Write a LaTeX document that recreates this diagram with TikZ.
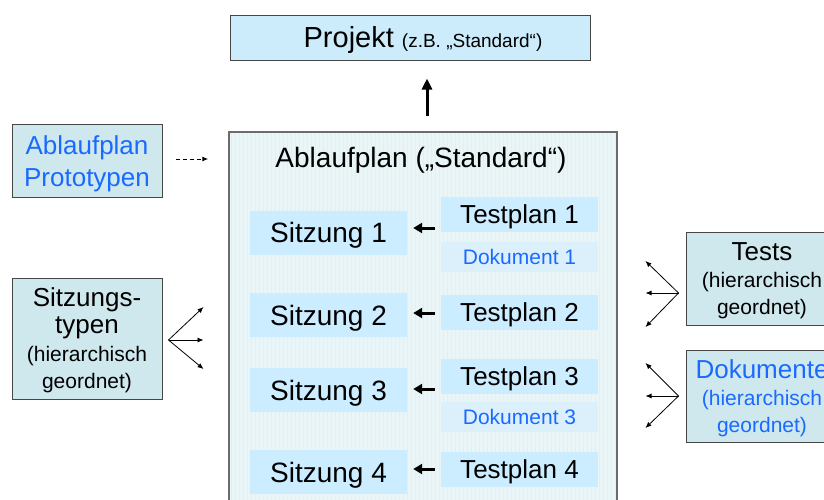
\documentclass[tikz,border=0pt]{standalone}
\usepackage{fontspec}
\setmainfont{Liberation Sans}
\usetikzlibrary{arrows.meta,positioning}

\definecolor{projfill}{RGB}{204,236,252}
\definecolor{sidefill}{RGB}{207,232,238}
\definecolor{planfill}{RGB}{233,245,247}
\definecolor{gridline}{RGB}{224,240,243}
\definecolor{sitzfill}{RGB}{204,236,255}
\definecolor{dokfill}{RGB}{220,240,252}
\definecolor{bluetext}{RGB}{26,106,255}
\definecolor{boxline}{RGB}{70,70,70}

\tikzset{
  box/.style={draw=boxline, line width=1pt, inner sep=0pt, align=center},
  sidebox/.style={box, fill=sidefill, minimum width=150pt, text depth=-6pt},
  sitz/.style={fill=sitzfill, minimum width=157pt, minimum height=44pt,
    text height=20pt, text depth=0pt, font=\fontsize{28}{30}\selectfont},
  tplan/.style={fill=sitzfill, minimum width=157pt, minimum height=35pt,
    text height=18.5pt, text depth=0pt, font=\fontsize{26}{28}\selectfont},
  dok/.style={fill=dokfill, minimum width=157pt, minimum height=30pt,
    text height=15pt, text depth=0pt, text=bluetext, font=\fontsize{21}{23}\selectfont},
  back/.style={-{Triangle[length=9pt,width=10pt]}, line width=3pt,
    shorten <=6pt, shorten >=6pt},
  fan/.style={-{Latex[length=6pt,width=5pt]}, line width=0.8pt},
}

\begin{document}
\begin{tikzpicture}[x=1pt,y=-1pt]
\useasboundingbox (0,0) rectangle (824,499);
\clip (0,0) rectangle (824,499);

% Projekt on top
\node[box, fill=projfill, minimum width=360pt, minimum height=45pt,
  text height=20pt, text depth=0pt, font=\fontsize{29}{30}\selectfont]
  (proj) at (410,37.5) {\hspace*{26pt}Projekt {\fontsize{19}{20}\selectfont (z.B. „Standard“)}};

% Ablaufplan frame (runs off the bottom)
\node[draw=boxline!80, line width=1.5pt, fill=planfill, minimum width=388pt, minimum height=388pt,
  path picture={\draw[gridline, line width=0.3pt, step=4]
    (path picture bounding box.south west) grid (path picture bounding box.north east);}]
  (plan) at (423,326) {};
\node[font=\fontsize{28}{30}\selectfont, text height=20pt, text depth=0pt]
  (ptitle) at (421,157) {Ablaufplan („Standard“)};
\draw[-{Triangle[length=11pt,width=10pt]}, line width=3pt, shorten <=15pt, shorten >=18pt]
  ([xshift=4pt]plan.north) -- ([xshift=4pt]plan.north |- proj.south);

% Sitzungen with their Testplaene
\node[sitz] (s1) at (328.5,232.5) {Sitzung 1};
\node[tplan] (t1) at (519.5,214.5) {Testplan 1};
\node[dok] (d1) at (519.5,256.5) {Dokument 1};
\draw[back] ([yshift=4.5pt]t1.west |- s1.east) -- ([yshift=4.5pt]s1.east);

\node[sitz] (s2) at (328.5,315) {Sitzung 2};
\node[tplan] (t2) at (519.5,312.5) {Testplan 2};
\draw[back] ([yshift=2pt]t2.west |- s2.east) -- ([yshift=2pt]s2.east);

\node[sitz] (s3) at (328.5,390) {Sitzung 3};
\node[tplan] (t3) at (519.5,376) {Testplan 3};
\node[dok] (d3) at (519.5,417) {Dokument 3};
\draw[back] ([yshift=1pt]t3.west |- s3.east) -- ([yshift=1pt]s3.east);

\node[sitz] (s4) at (328.5,472) {Sitzung 4};
\node[tplan] (t4) at (519.5,469.5) {Testplan 4};
\draw[back] ([yshift=3pt]t4.west |- s4.east) -- ([yshift=3pt]s4.east);

% Prototypen
\node[sidebox, minimum height=73pt, text=bluetext, font=\fontsize{26}{32}\selectfont]
  (proto) at (87,161) {Ablaufplan\\Prototypen};
\draw[-{Latex[length=6pt,width=5pt]}, line width=1pt, dash pattern=on 4pt off 3pt,
  shorten <=13pt, shorten >=20pt] ([yshift=2pt]proto.east) -- ([yshift=2pt]proto.east -| plan.west);

% Sitzungstypen
\node[sidebox, minimum height=121pt, font=\fontsize{26}{27}\selectfont]
  (typen) at (87,338.5) {Sitzungs-\\typen\\[1pt]{\fontsize{21}{26}\selectfont (hierarchisch}\\{\fontsize{21}{24}\selectfont geordnet)}};
\coordinate (sfan) at ([xshift=6pt,yshift=-1.5pt]typen.east);
\draw[fan] (sfan) -- ++(35,-33);
\draw[fan] (sfan) -- ++(35,0);
\draw[fan] (sfan) -- ++(35,29);

% Tests
\node[sidebox, minimum width=152pt, minimum height=93pt, font=\fontsize{26}{27}\selectfont]
  (tests) at (762,278.5) {Tests\\{\fontsize{21}{24}\selectfont (hierarchisch}\\{\fontsize{21}{24}\selectfont geordnet)}};
\coordinate (tfan) at ([xshift=-7pt,yshift=-14.5pt]tests.west);
\draw[fan] (tfan) -- ++(-33,-32);
\draw[fan] (tfan) -- ++(-33,0);
\draw[fan] (tfan) -- ++(-33,34);

% Dokumente
\node[sidebox, minimum width=152pt, minimum height=92pt, text=bluetext, font=\fontsize{26}{27}\selectfont]
  (docs) at (762,396) {Dokumente\\{\fontsize{21}{24}\selectfont (hierarchisch}\\{\fontsize{21}{24}\selectfont geordnet)}};
\coordinate (dfan) at ([xshift=-7pt]docs.west);
\draw[fan] (dfan) -- ++(-33,-33);
\draw[fan] (dfan) -- ++(-33,0);
\draw[fan] (dfan) -- ++(-33,32);
\end{tikzpicture}
\end{document}
